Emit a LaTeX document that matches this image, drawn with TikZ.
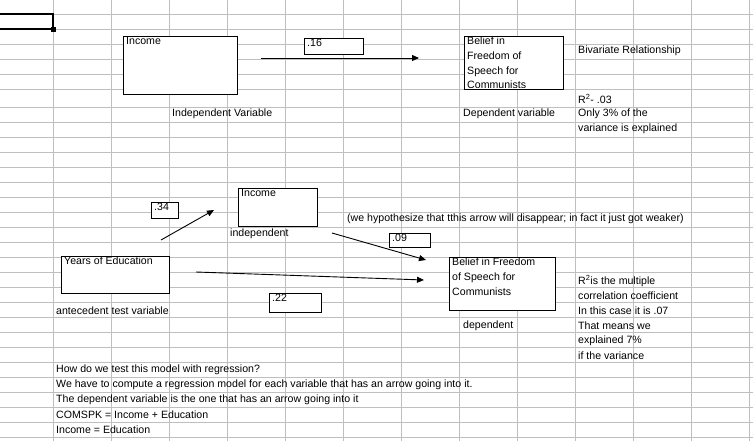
\documentclass[tikz,border=0pt]{standalone}
\usepackage{fontspec}
\setmainfont{Liberation Sans}
\usetikzlibrary{arrows.meta}
\begin{document}
\begin{tikzpicture}[x=1pt,y=-1pt,
  every node/.style={font=\fontsize{10.6}{12.5}\selectfont, inner sep=0pt},
  txt/.style={anchor=west},
  box/.style={draw=black, line width=0.9pt, fill=white, anchor=north west},
  lab/.style={label={[anchor=north west,inner sep=0pt,xshift=3pt,yshift=-1pt]north west:#1}},
  arr/.style={line width=0.9pt, -{Triangle[length=7pt,width=6pt]}},
  grid/.style={draw=black!25, line width=0.9pt}]
\useasboundingbox (0,0) rectangle (753,441);
\fill[white] (0,0) rectangle (753,441);
% grid
\foreach \x in {53,111,169,227,285,343,401,459,517,575,633,691,749}
  \draw[grid] (\x,0) -- (\x,441);
\foreach \y in {14,29,44,59,74,89,107,122,137,152,167,182,197,212,227,242,257,272,287,302,317,332,347,362,377,392,407,422,437}
  \draw[grid] (0,\y) -- (753,\y);
% selected cell
\draw[line width=2.2pt] (0,14) -- (53,14) -- (53,29) -- (0,29);
\fill (51,27) rectangle (56,32);
% ---- bivariate
\node[box, minimum width=114pt, minimum height=58pt, lab=Income] (inc1) at (123,36) {};
\node[box, minimum width=59pt, minimum height=16pt, lab=.16] (b16) at (304,38) {};
\node[box, minimum width=99pt, minimum height=53pt] (bel1) at (464,36) {};
\begin{scope}
\clip (465,37) rectangle (562,88);
\node[anchor=north west, align=left, font=\fontsize{10.6}{14.7}\selectfont] (bel1t) at (467,37) {Belief in\\Freedom of\\Speech for\\Communists};
\end{scope}
\coordinate (a1s) at (261,58);
\coordinate (a1e) at (419,58);
\draw[arr] (a1s) -- (a1e);
\node[txt] (t1) at (578,51) {Bivariate Relationship};
\node[txt] (t2) at (172,114) {Independent Variable};
\node[txt] (t3) at (463,114) {Dependent variable};
\node[txt] (t4) at (578,99) {R\textsuperscript{2}- .03};
\node[txt] (t5) at (578,114) {Only 3\% of the};
\node[txt] (t6) at (578,129) {variance is explained};
% ---- second model
\node[box, minimum width=79pt, minimum height=38pt, lab=Income] (inc2) at (238,188) {};
\node[box, minimum width=27pt, minimum height=16pt, lab=.34] (b34) at (151,202) {};
\node[box, minimum width=108pt, minimum height=37pt, lab=Years of Education] (yrs) at (61,256) {};
\node[box, minimum width=41pt, minimum height=14pt, lab=.09] (b09) at (389,233) {};
\node[box, minimum width=52pt, minimum height=19pt, lab=.22] (b22) at (269,293) {};
\node[box, minimum width=106pt, minimum height=53pt] (bel2) at (449,257) {};
\node[anchor=north west, align=left, font=\fontsize{10.6}{14.7}\selectfont] (bel2t) at (452,258) {Belief in Freedom\\of Speech for\\Communists};
\coordinate (a2s) at (161,240); \coordinate (a2e) at (214,210);
\coordinate (a3s) at (332,233); \coordinate (a3e) at (426,260);
\coordinate (a4s) at (196,272); \coordinate (a4e) at (424,280);
\draw[arr] (a2s) -- (a2e);
\draw[arr] (a3s) -- (a3e);
\draw[arr] (a4s) -- (a4e);
\node[txt] (t7) at (230,234) {independent};
\node[txt] (t8) at (347,219) {(we hypothesize that tthis arrow will disappear; in fact it just got weaker)};
\node[txt] (t9) at (463,326) {dependent};
\node[txt] (t10) at (56,311) {antecedent test variable};
\node[txt] (r1) at (578,281) {R\textsuperscript{2}is the multiple};
\node[txt] (r2) at (578,296) {correlation coefficient};
\node[txt] (r3) at (578,311) {In this case it is .07};
\node[txt] (r4) at (578,326) {That means we};
\node[txt] (r5) at (578,341) {explained 7\%};
\node[txt] (r6) at (578,356) {if the variance};
\node[txt] (q1) at (56,370) {How do we test this model with regression?};
\node[txt] (q2) at (56,385) {We have to compute a regression model for each variable that has an arrow going into it.};
\node[txt] (q3) at (56,400) {The dependent variable is the one that has an arrow going into it};
\node[txt] (q4) at (56,415) {COMSPK = Income + Education};
\node[txt] (q5) at (56,430) {Income = Education};
\end{tikzpicture}
\end{document}
